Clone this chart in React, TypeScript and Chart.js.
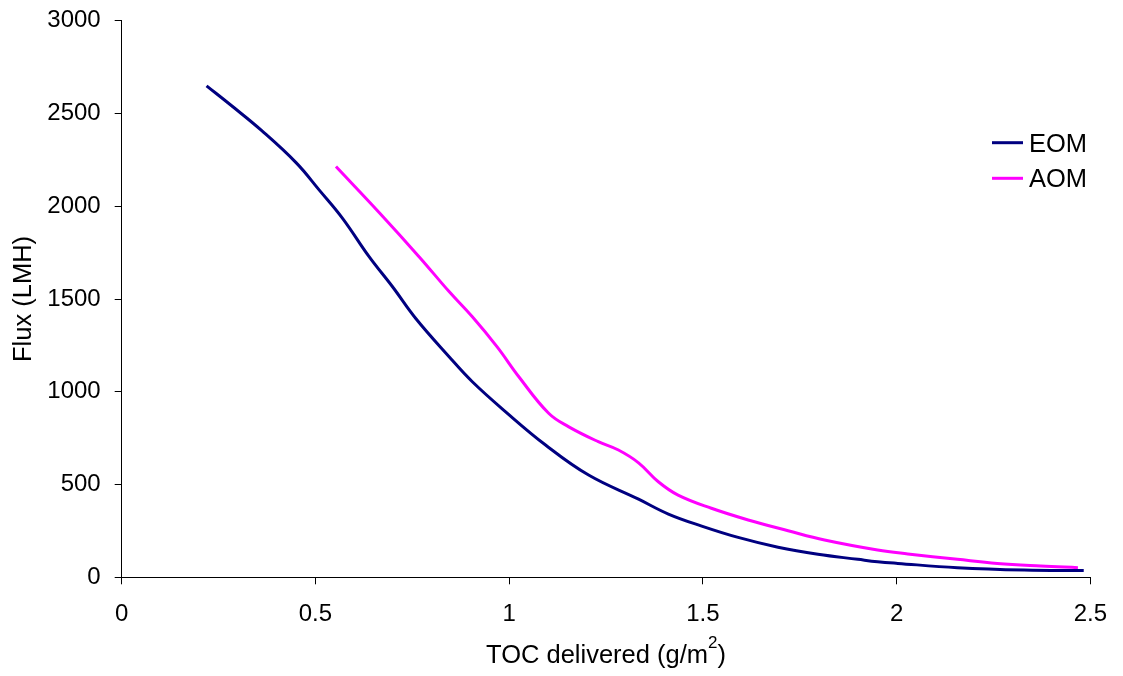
import React, { useEffect, useRef } from "react";
import { Chart, registerables } from "chart.js";

Chart.register(...registerables);

const eomX = [0.219, 0.287, 0.36, 0.45, 0.51, 0.57, 0.639, 0.699, 0.759, 0.845, 0.905, 0.991, 1.094, 1.205, 1.334, 1.411, 1.497, 1.591, 1.694, 1.797, 1.9, 1.951, 2.003, 2.157, 2.329, 2.483];
const eomY = [2649, 2536, 2410, 2235, 2087, 1935, 1727, 1566, 1395, 1189, 1054, 892, 713, 551, 421, 341, 276, 215, 162, 124, 97, 84, 75, 52, 39, 36];

const aomX = [0.553, 0.665, 0.768, 0.845, 0.905, 0.969, 1.025, 1.102, 1.154, 1.23, 1.282, 1.334, 1.385, 1.436, 1.522, 1.617, 1.72, 1.814, 1.951, 2.029, 2.157, 2.26, 2.372, 2.468];
const aomY = [2214, 1965, 1727, 1540, 1404, 1242, 1081, 884, 811, 731, 686, 617, 515, 443, 372, 309, 251, 201, 147, 126, 97, 75, 61, 52];

const seriesNames = ["EOM", "AOM"];
const seriesColors = ["#000080", "#FF00FF"];

const xTitleMain = "TOC delivered (g/m";
const xTitleSup = "2";
const xTitleEnd = ")";
const yTitle = "Flux (LMH)";

const FONT = "'Liberation Sans', Arial, sans-serif";
const TICK_FS = 24;
const TITLE_FS = 25.5;

const legendPlugin = {
  id: "customLegend",
  afterDraw(chart: any) {
    const ctx = chart.ctx;
    ctx.save();
    chart.data.datasets.forEach((ds: any, i: number) => {
      const y = 142.7 + i * 35.6;
      ctx.strokeStyle = ds.borderColor;
      ctx.lineWidth = 3;
      ctx.beginPath();
      ctx.moveTo(992, y);
      ctx.lineTo(1023, y);
      ctx.stroke();
      ctx.fillStyle = "#000";
      ctx.font = `${TITLE_FS}px ${FONT}`;
      ctx.textAlign = "left";
      ctx.textBaseline = "alphabetic";
      ctx.fillText(ds.label, 1029, y + 9);
    });
    ctx.restore();
  },
};

const xTitlePlugin = {
  id: "xTitleSup",
  afterDraw(chart: any) {
    const ctx = chart.ctx;
    const area = chart.chartArea;
    ctx.save();
    ctx.fillStyle = "#000";
    ctx.textBaseline = "alphabetic";
    ctx.textAlign = "left";
    const mainFont = `${TITLE_FS}px ${FONT}`;
    const supFont = `${17}px ${FONT}`;
    ctx.font = mainFont;
    const w1 = ctx.measureText(xTitleMain).width;
    const w3 = ctx.measureText(xTitleEnd).width;
    ctx.font = supFont;
    const w2 = ctx.measureText(xTitleSup).width;
    const total = w1 + w2 + w3;
    const cx = (area.left + area.right) / 2;
    let x = cx - total / 2;
    const base = 663;
    ctx.font = mainFont;
    ctx.fillText(xTitleMain, x, base);
    x += w1;
    ctx.font = supFont;
    ctx.fillText(xTitleSup, x, base - 15.5);
    x += w2;
    ctx.font = mainFont;
    ctx.fillText(xTitleEnd, x, base);
    ctx.restore();
  },
};

export default function App() {
  const ref = useRef<HTMLCanvasElement>(null);
  useEffect(() => {
    if (!ref.current) return;
    const mk = (xs: number[], ys: number[]) => xs.map((x, i) => ({ x, y: ys[i] }));
    const chart = new Chart(ref.current, {
      type: "line",
      data: {
        datasets: [
          {
            label: seriesNames[0],
            data: mk(eomX, eomY),
            borderColor: seriesColors[0],
            backgroundColor: seriesColors[0],
            borderWidth: 3,
            pointRadius: 0,
            tension: 0.4,
          },
          {
            label: seriesNames[1],
            data: mk(aomX, aomY),
            borderColor: seriesColors[1],
            backgroundColor: seriesColors[1],
            borderWidth: 3,
            pointRadius: 0,
            tension: 0.4,
          },
        ],
      },
      options: {
        responsive: false,
        animation: false,
        layout: { padding: { left: 0, top: 20.7, right: 29.7, bottom: 0 } },
        plugins: {
          legend: { display: false },
          tooltip: { enabled: false },
        },
        scales: {
          x: {
            type: "linear",
            min: 0,
            max: 2.5,
            afterFit: (s: any) => {
              s.height = 98.7;
            },
            ticks: {
              stepSize: 0.5,
              color: "#000",
              font: { size: TICK_FS, family: FONT },
              padding: 16,
              maxRotation: 0,
              callback: (v: any) => String(v),
            },
            grid: { display: true, drawOnChartArea: false, drawTicks: true, tickLength: 7, color: "#000" },
            border: { display: true, color: "#000", width: 1 },
            title: { display: false },
          },
          y: {
            type: "linear",
            min: 0,
            max: 3000,
            afterFit: (s: any) => {
              s.width = 121.7;
              s.paddingTop = 0;
              s.paddingBottom = 0;
            },
            ticks: {
              stepSize: 500,
              color: "#000",
              font: { size: TICK_FS, family: FONT },
              padding: 14,
              callback: (v: any) => String(v),
            },
            grid: { display: true, drawOnChartArea: false, drawTicks: true, tickLength: 7, color: "#000" },
            border: { display: true, color: "#000", width: 1 },
            title: {
              display: true,
              text: yTitle,
              color: "#000",
              font: { size: TITLE_FS, family: FONT },
              padding: { top: 9, bottom: 0 },
            },
          },
        },
      },
      plugins: [legendPlugin, xTitlePlugin],
    } as any);
    return () => chart.destroy();
  }, []);
  return (
    <div style={{ position: "absolute", left: 0, top: 0, width: 1123, height: 676, background: "#fff" }}>
      <canvas ref={ref} width={1123} height={676} style={{ display: "block" }} />
    </div>
  );
}
